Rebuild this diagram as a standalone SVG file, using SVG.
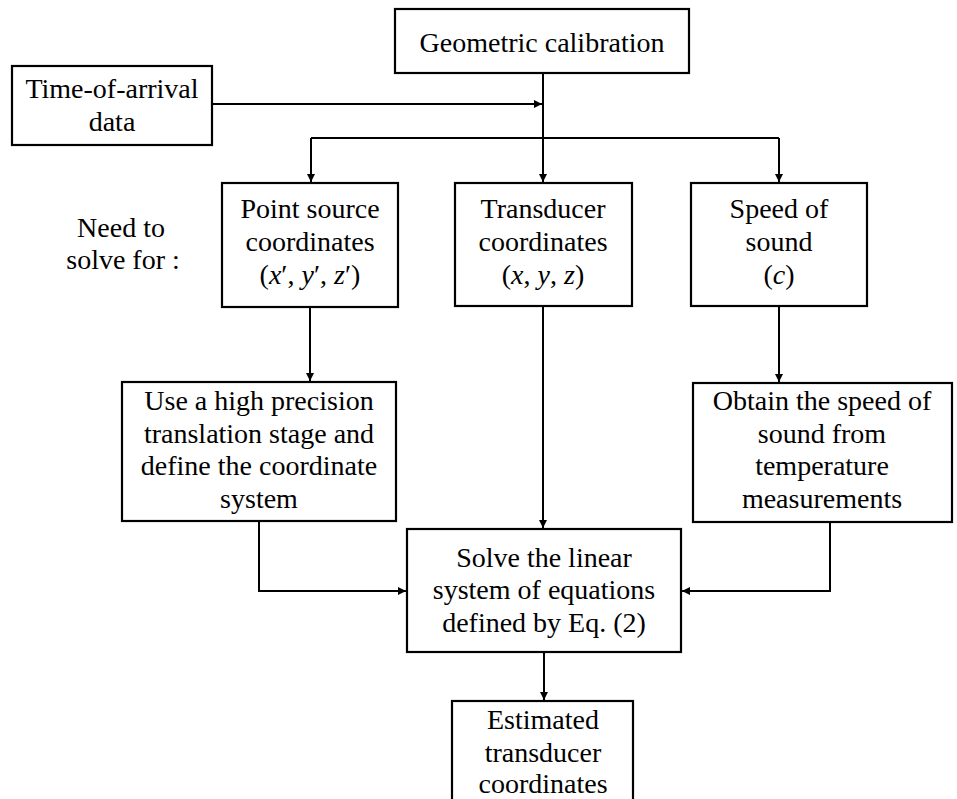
<svg xmlns="http://www.w3.org/2000/svg" width="957" height="799" viewBox="0 0 957 799">
<style>
.box{fill:#fff;stroke:#000;stroke-width:2.2}
.t{font-family:"Liberation Serif","Times New Roman",serif;font-size:28px;fill:#000;text-anchor:middle}
.m{font-style:italic}
.c{fill:none;stroke:#000;stroke-width:2}
</style>
<defs>
<marker id="ah" viewBox="0 0 10 10" refX="10" refY="5" markerWidth="9" markerHeight="8" markerUnits="userSpaceOnUse" orient="auto">
<path d="M0,0 L10,5 L0,10 Z" fill="#000"/>
</marker>
</defs>
<rect width="957" height="799" fill="#fff"/>
<g id="connectors">
<path class="c" d="M543,73 V182" marker-end="url(#ah)"/>
<path class="c" d="M212,104 H542" marker-end="url(#ah)"/>
<path class="c" d="M311,138 H779"/>
<path class="c" d="M311,138 V182" marker-end="url(#ah)"/>
<path class="c" d="M779,138 V182" marker-end="url(#ah)"/>
<path class="c" d="M310,307 V381" marker-end="url(#ah)"/>
<path class="c" d="M779,306 V382" marker-end="url(#ah)"/>
<path class="c" d="M543,306 V528" marker-end="url(#ah)"/>
<path class="c" d="M259,521 V591 H406" marker-end="url(#ah)"/>
<path class="c" d="M830,522 V591 H682" marker-end="url(#ah)"/>
<path class="c" d="M544,652 V700" marker-end="url(#ah)"/>
</g>
<g id="geometric">
<rect class="box" x="395" y="9" width="294" height="64"/>
<text class="t" x="542" y="52">Geometric calibration</text>
</g>
<g id="toa">
<rect class="box" x="12" y="66" width="200" height="79"/>
<text class="t" x="112" y="98">Time-of-arrival</text>
<text class="t" x="112" y="131">data</text>
</g>
<g id="need">
<text class="t" x="121" y="237">Need to</text>
<text class="t" x="123" y="269">solve for :</text>
</g>
<g id="point">
<rect class="box" x="222" y="183" width="176" height="124"/>
<text class="t" x="310" y="218">Point source</text>
<text class="t" x="310" y="251">coordinates</text>
<text class="t" x="310" y="284">(<tspan class="m">x</tspan>′, <tspan class="m">y</tspan>′, <tspan class="m">z</tspan>′)</text>
</g>
<g id="transducer">
<rect class="box" x="455" y="183" width="177" height="123"/>
<text class="t" x="543" y="218">Transducer</text>
<text class="t" x="543" y="251">coordinates</text>
<text class="t" x="543" y="284">(<tspan class="m">x</tspan>, <tspan class="m">y</tspan>, <tspan class="m">z</tspan>)</text>
</g>
<g id="speed">
<rect class="box" x="691" y="183" width="176" height="123"/>
<text class="t" x="779" y="218">Speed of</text>
<text class="t" x="779" y="251">sound</text>
<text class="t" x="779" y="284">(<tspan class="m">c</tspan>)</text>
</g>
<g id="stage">
<rect class="box" x="122" y="382" width="274" height="139"/>
<text class="t" x="259" y="410">Use a high precision</text>
<text class="t" x="259" y="443">translation stage and</text>
<text class="t" x="259" y="475">define the coordinate</text>
<text class="t" x="259" y="508">system</text>
</g>
<g id="obtain">
<rect class="box" x="693" y="383" width="259" height="139"/>
<text class="t" x="822" y="410">Obtain the speed of</text>
<text class="t" x="822" y="443">sound from</text>
<text class="t" x="822" y="475">temperature</text>
<text class="t" x="822" y="508">measurements</text>
</g>
<g id="solve">
<rect class="box" x="407" y="529" width="274" height="123"/>
<text class="t" x="544" y="567">Solve the linear</text>
<text class="t" x="544" y="599">system of equations</text>
<text class="t" x="544" y="632">defined by Eq. (2)</text>
</g>
<g id="estimated">
<rect class="box" x="452" y="701" width="181" height="110"/>
<text class="t" x="543" y="729">Estimated</text>
<text class="t" x="543" y="762">transducer</text>
<text class="t" x="543" y="793">coordinates</text>
</g>
</svg>
